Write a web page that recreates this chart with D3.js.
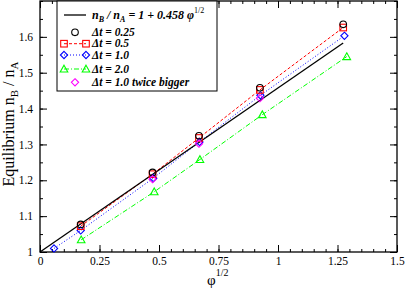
<!DOCTYPE html>
<html>
<head>
<meta charset="utf-8">
<script src="https://cdn.jsdelivr.net/npm/d3@7"></script>
<style>
body { margin: 0; background: #fff; }
svg { display: block; }
</style>
</head>
<body>
<script>
'use strict';

// data
var fitX = [0, 1.274];
var fitY = [1, 1.583];

var dt025X = [0.171, 0.473, 0.668, 0.924, 1.274];
var dt025Y = [1.077, 1.222, 1.324, 1.458, 1.635];

var dt05X = [0.171, 0.473, 0.668, 0.924, 1.274];
var dt05Y = [1.072, 1.217, 1.318, 1.452, 1.626];

var dt10X = [0.059, 0.171, 0.476, 0.670, 0.926, 1.279];
var dt10Y = [1.010, 1.060, 1.206, 1.307, 1.437, 1.603];

var dt20X = [0.173, 0.480, 0.672, 0.934, 1.289];
var dt20Y = [1.034, 1.168, 1.258, 1.383, 1.545];

var bigX = [0.473, 0.668, 0.924];
var bigY = [1.203, 1.302, 1.429];

var xTicks = [0, 0.25, 0.5, 0.75, 1, 1.25, 1.5];
var xTickLabels = ["0", "0.25", "0.5", "0.75", "1", "1.25", "1.5"];
var yTicks = [1, 1.1, 1.2, 1.3, 1.4, 1.5, 1.6];
var yTickLabels = ["1", "1.1", "1.2", "1.3", "1.4", "1.5", "1.6"];

var FONT = "'Liberation Serif', 'Times New Roman', Times, serif";

var width = 407, height = 289;
var pLeft = 40, pRight = 397, pTop = 1, pBottom = 252;

var svg = d3.select("body").append("svg")
    .attr("width", width)
    .attr("height", height);

var x = d3.scaleLinear().domain([0, 1.5]).range([pLeft, pRight]);
var y = d3.scaleLinear().domain([1, 1.7]).range([pBottom, pTop]);

function zip(a, b) {
    return a.map(function (v, i) { return [v, b[i]]; });
}

var line = d3.line()
    .x(d => x(d[0]))
    .y(d => y(d[1]));

// axes with inward ticks on all four sides
var xMinor = d3.range(0, 1.5001, 0.05);
var yMinor = d3.range(1, 1.7001, 0.05);

function drawAxis(axis, tf, cls) {
    var g = svg.append("g").attr("class", cls).attr("transform", tf);
    axis(g);
    g.select(".domain").remove();
    g.selectAll(".tick line").attr("stroke", "#000");
    return g;
}

var fmtX = function (d, i) { return xTickLabels[i]; };
var fmtY = function (d, i) { return yTickLabels[i]; };

drawAxis(d3.axisBottom(x).tickValues(xMinor).tickSize(-3).tickFormat(""), "translate(0," + pBottom + ")", "xmin");
drawAxis(d3.axisTop(x).tickValues(xMinor).tickSize(-3).tickFormat(""), "translate(0," + pTop + ")", "xmin2");
drawAxis(d3.axisLeft(y).tickValues(yMinor).tickSize(-3).tickFormat(""), "translate(" + pLeft + ",0)", "ymin");
drawAxis(d3.axisRight(y).tickValues(yMinor).tickSize(-3).tickFormat(""), "translate(" + pRight + ",0)", "ymin2");

drawAxis(d3.axisBottom(x).tickValues(xTicks).tickSize(-7).tickPadding(5).tickFormat(fmtX), "translate(0," + pBottom + ")", "xAxis");
drawAxis(d3.axisTop(x).tickValues(xTicks).tickSize(-7).tickFormat(""), "translate(0," + pTop + ")", "xAxis2");
drawAxis(d3.axisLeft(y).tickValues(yTicks).tickSize(-7).tickPadding(7).tickFormat(fmtY), "translate(" + pLeft + ",0)", "yAxis");
drawAxis(d3.axisRight(y).tickValues(yTicks).tickSize(-7).tickFormat(""), "translate(" + pRight + ",0)", "yAxis2");

svg.selectAll(".xAxis text, .yAxis text")
    .attr("font-size", 11.5)
    .attr("fill", "#000");

svg.append("rect")
    .attr("x", pLeft).attr("y", pTop)
    .attr("width", pRight - pLeft).attr("height", pBottom - pTop)
    .attr("fill", "none").attr("stroke", "#000").attr("stroke-width", 1.3);

// symbols
function marker(g, kind, color, cx, cy) {
    if (kind === "circle") {
        g.append("circle").attr("cx", cx).attr("cy", cy).attr("r", 3.3)
            .attr("fill", "none").attr("stroke", color).attr("stroke-width", 1.1);
    } else if (kind === "square") {
        g.append("rect").attr("x", cx - 3.3).attr("y", cy - 3.3).attr("width", 6.6).attr("height", 6.6)
            .attr("fill", "none").attr("stroke", color).attr("stroke-width", 1.1);
    } else if (kind === "diamond") {
        g.append("path").attr("d", "M" + cx + "," + (cy - 3.6) + "L" + (cx + 3.6) + "," + cy + "L" + cx + "," + (cy + 3.6) + "L" + (cx - 3.6) + "," + cy + "Z")
            .attr("fill", "none").attr("stroke", color).attr("stroke-width", 1.1);
    } else if (kind === "triangle") {
        g.append("path").attr("d", "M" + cx + "," + (cy - 3.8) + "L" + (cx + 3.8) + "," + (cy + 3) + "L" + (cx - 3.8) + "," + (cy + 3) + "Z")
            .attr("fill", "none").attr("stroke", color).attr("stroke-width", 1.1);
    }
}

var series = [
    { xs: dt20X, ys: dt20Y, color: "#00ff00", kind: "triangle", dash: "5,2,1,2", connect: true },
    { xs: dt10X, ys: dt10Y, color: "#0000ff", kind: "diamond", dash: "1,2", connect: true },
    { xs: dt05X, ys: dt05Y, color: "#ff0000", kind: "square", dash: "3,2", connect: true },
    { xs: dt025X, ys: dt025Y, color: "#000000", kind: "circle", connect: false },
    { xs: bigX, ys: bigY, color: "#ff00ff", kind: "diamond", connect: false }
];

var plot = svg.append("g");

series.forEach(function (s) {
    if (s.connect) {
        plot.append("path")
            .datum(zip(s.xs, s.ys))
            .attr("fill", "none")
            .attr("stroke", s.color)
            .attr("stroke-width", 1)
            .attr("stroke-dasharray", s.dash)
            .attr("d", line);
    }
});

plot.append("path")
    .datum(zip(fitX, fitY))
    .attr("fill", "none")
    .attr("stroke", "#000")
    .attr("stroke-width", 1.3)
    .attr("d", line);

series.forEach(function (s) {
    zip(s.xs, s.ys).forEach(function (d) {
        marker(plot, s.kind, s.color, x(d[0]), y(d[1]));
    });
});

// axis titles
var ylab = svg.append("text")
    .attr("transform", "translate(14,124) rotate(-90)")
    .attr("text-anchor", "middle")
    .attr("font-size", 16);
ylab.append("tspan").text("Equilibrium  n");
ylab.append("tspan").attr("font-size", 11).attr("dy", 4).text("B");
ylab.append("tspan").attr("dy", -4).text(" / n");
ylab.append("tspan").attr("font-size", 11).attr("dy", 4).text("A");

var xlab = svg.append("text")
    .attr("x", 207).attr("y", 285)
    .attr("font-size", 15);
xlab.append("tspan").text("\u03c6");
xlab.append("tspan").attr("font-size", 10).attr("dy", -9).text("1/2");

// legend
var lg = svg.append("g");
lg.append("rect")
    .attr("x", 57).attr("y", 1)
    .attr("width", 160).attr("height", 90)
    .attr("fill", "#fff").attr("stroke", "#000").attr("stroke-width", 1);

var legendRows = [
    { y: 15, color: "#000", line: true, width: 1.3, dash: null, kind: null, ends: false },
    { y: 32.3, color: "#000000", line: false, kind: "circle", ends: false },
    { y: 43.7, color: "#ff0000", line: true, width: 1, dash: "3,2", kind: "square", ends: true },
    { y: 55, color: "#0000ff", line: true, width: 1, dash: "1,2", kind: "diamond", ends: true },
    { y: 69, color: "#00ff00", line: true, width: 1, dash: "5,2,1,2", kind: "triangle", ends: true },
    { y: 82.3, color: "#ff00ff", line: false, kind: "diamond", ends: false }
];
var legendText = ["0.25", "0.5", "1.0", "2.0", "1.0 twice bigger"];

legendRows.forEach(function (r) {
    if (r.line) {
        lg.append("line")
            .attr("x1", 64).attr("x2", 86).attr("y1", r.y).attr("y2", r.y)
            .attr("stroke", r.color).attr("stroke-width", r.width)
            .attr("stroke-dasharray", r.dash);
    }
    if (r.kind) {
        if (r.ends) {
            marker(lg, r.kind, r.color, 64, r.y);
            marker(lg, r.kind, r.color, 86, r.y);
        } else {
            marker(lg, r.kind, r.color, 75, r.y);
        }
    }
});

var t0 = lg.append("text")
    .attr("x", 92).attr("y", 18.5)
    .attr("font-size", 12).attr("font-weight", "bold").attr("font-style", "italic");
t0.append("tspan").text("n");
t0.append("tspan").attr("font-size", 8).attr("dy", 3).text("B");
t0.append("tspan").attr("dy", -3).text(" / n");
t0.append("tspan").attr("font-size", 8).attr("dy", 3).text("A");
t0.append("tspan").attr("dy", -3).text(" = 1 + 0.458 \u03c6");
t0.append("tspan").attr("font-size", 8).attr("font-weight", "normal").attr("font-style", "normal").attr("dy", -6).text("1/2");

legendRows.slice(1).forEach(function (r, i) {
    lg.append("text")
        .attr("x", 92).attr("y", r.y + 3.5)
        .attr("font-size", 11.5).attr("font-weight", "bold").attr("font-style", "italic")
        .text("\u0394t = " + legendText[i]);
});

svg.selectAll("text").style("font-family", FONT);
</script>
</body>
</html>
